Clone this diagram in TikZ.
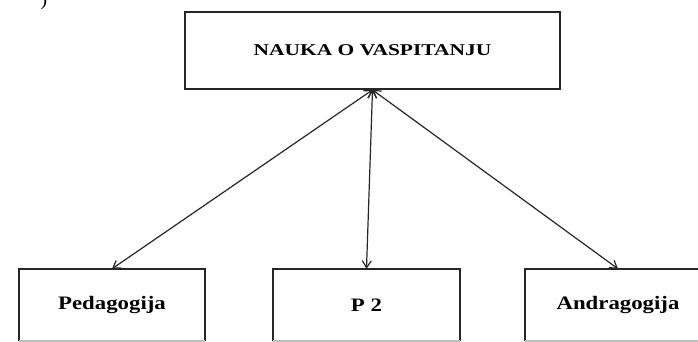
\documentclass[tikz,border=0pt]{standalone}
\usepackage{fontspec}
\setmainfont{Liberation Serif}
\newfontfamily\topfont[FakeStretch=1.3]{Liberation Serif}
\newfontfamily\boxfont[FakeStretch=1.2]{Liberation Serif}
\usetikzlibrary{arrows.meta}
\begin{document}
\begin{tikzpicture}[x=1pt,y=1pt,
  topbox/.style={draw=black!85, line width=1.8pt, minimum width=375pt, minimum height=77pt, inner sep=0pt,
    font=\topfont\bfseries\fontsize{16.5}{18}\selectfont},
  lowbox/.style={minimum width=186pt, minimum height=72pt, inner sep=0pt,
    font=\boxfont\bfseries\fontsize{19}{21}\selectfont},
  boxedge/.style={draw=black!85, line width=1.8pt},
  link/.style={draw=black!85, line width=1.2pt, {Straight Barb[length=7pt,width=9pt]}-{Straight Barb[length=7pt,width=9pt]}}
]
\useasboundingbox (0,0) rectangle (698,-342);
\clip (0,0) rectangle (698,-342);
\node[font=\fontsize{20}{22}\selectfont] (par) at (44,-1) {)};
\node[topbox] (top) at (372.5,-50.5) {NAUKA O VASPITANJU};
\node[lowbox] (ped) at (112,-305) {Pedagogija};
\node[lowbox] (p2) at (366.5,-305) {P 2};
\node[lowbox] (and) at (618,-305) {Andragogija};
\foreach \n in {ped,p2,and}{
  \draw[boxedge] (\n.south west) -- (\n.north west) -- (\n.north east) -- (\n.south east);
  \draw[black!25, line width=1.5pt] (\n.south west) -- (\n.south east);
}
\draw[link] (top.south) -- (ped.north);
\draw[link] (top.south) -- (p2.north);
\draw[link] (top.south) -- (and.north);
\end{tikzpicture}
\end{document}
